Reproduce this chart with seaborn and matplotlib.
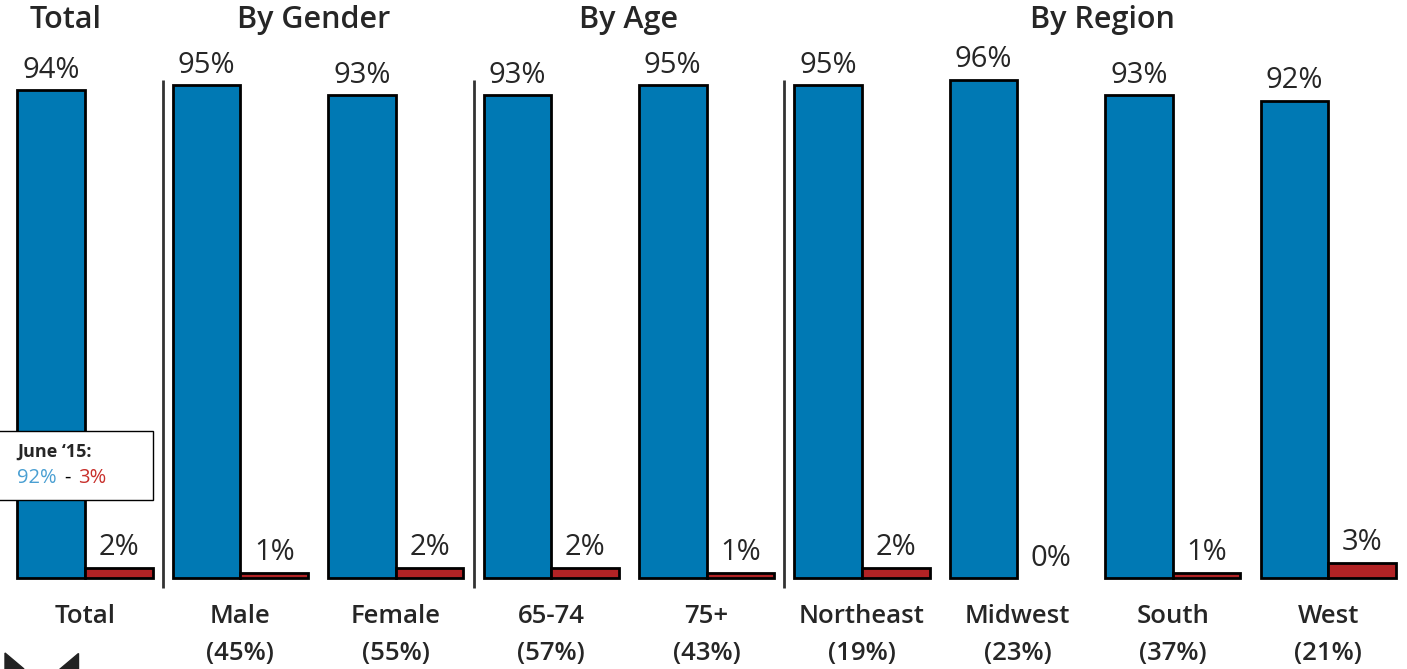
import pandas as pd
import matplotlib.pyplot as plt
import seaborn as sns
from matplotlib.patches import Rectangle, Polygon

# dados
categories = ["Total", "Male", "Female", "65-74", "75+", "Northeast", "Midwest", "South", "West"]
shares = ["", "(45%)", "(55%)", "(57%)", "(43%)", "(19%)", "(23%)", "(37%)", "(21%)"]
favorable = [94, 95, 93, 93, 95, 95, 96, 93, 92]
unfavorable = [2, 1, 2, 2, 1, 2, 0, 1, 3]
groups = ["Total", "By Gender", "By Age", "By Region"]
group_pos = [-0.125, 1.47, 3.5, 6.55]
separators = [0.5, 2.5, 4.5]

blue = "#0079b4"
red = "#b22325"

df = pd.DataFrame({
    "cat": categories * 2,
    "val": favorable + unfavorable,
    "serie": ["fav"] * 9 + ["unfav"] * 9,
})

sns.set_style("white")
plt.rcParams["font.family"] = ["Open Sans", "DejaVu Sans"]

fig = plt.figure(figsize=(14.07, 6.69), dpi=100)
ax = fig.add_axes([0, 0, 1, 1])
sns.barplot(data=df, x="cat", y="val", hue="serie", order=categories,
            palette=[blue, red], width=0.87, edgecolor="black", linewidth=2,
            saturation=1, legend=False, ax=ax)

# barra com 0% nao aparece
for p in ax.patches:
    if p.get_height() == 0:
        p.set_visible(False)

ax.set_xlim(-0.547, 8.507)
ax.set_ylim(-17.5, 111.4)
ax.set_axis_off()

# rotulos dos valores
ax.bar_label(ax.containers[0], labels=[f"{v}%" for v in favorable], padding=4, fontsize=21)
ax.bar_label(ax.containers[1], labels=[f"{v}%" for v in unfavorable], padding=4, fontsize=21)

# categorias embaixo
for i, (c, s) in enumerate(zip(categories, shares)):
    ax.text(i, -7.4, c, ha="center", va="center", fontsize=18.5, fontweight="semibold")
    if s:
        ax.text(i, -14.6, s, ha="center", va="center", fontsize=18.5, fontweight="semibold")

# titulos dos grupos
for g, x in zip(groups, group_pos):
    ax.text(x, 107.5, g, ha="center", va="center", fontsize=22, fontweight="semibold")

# separadores
for x in separators:
    ax.plot([x, x], [-1.9, 96], color="#333333", lw=2, solid_capstyle="butt")

# caixa "June '15"
W, H = 1407, 669
fig.add_artist(Rectangle((-0.01, 1 - 500 / H), 153 / W + 0.01, 69 / H,
                         transform=fig.transFigure, facecolor="white",
                         edgecolor="black", lw=1, zorder=10))
fig.text(17 / W, 1 - 452 / H, "June \u201815:", fontsize=13, fontweight="bold",
         va="center", ha="left", zorder=11)
fig.text(17 / W, 1 - 478 / H, "92%", color="#4a9fd2", fontsize=14.5, va="center", zorder=11)
fig.text(64 / W, 1 - 478 / H, "-", color="black", fontsize=14.5, va="center", zorder=11)
fig.text(78 / W, 1 - 478 / H, "3%", color="#c8302c", fontsize=14.5, va="center", zorder=11)

# triangulos no canto
fig.add_artist(Polygon([(5 / W, 1 - 653 / H), (24 / W, 0), (5 / W, 0)],
                       closed=True, transform=fig.transFigure, color="#222222"))
fig.add_artist(Polygon([(78 / W, 1 - 653 / H), (78 / W, 0), (59 / W, 0)],
                       closed=True, transform=fig.transFigure, color="#222222"))

plt.savefig("out.png", dpi=100)
